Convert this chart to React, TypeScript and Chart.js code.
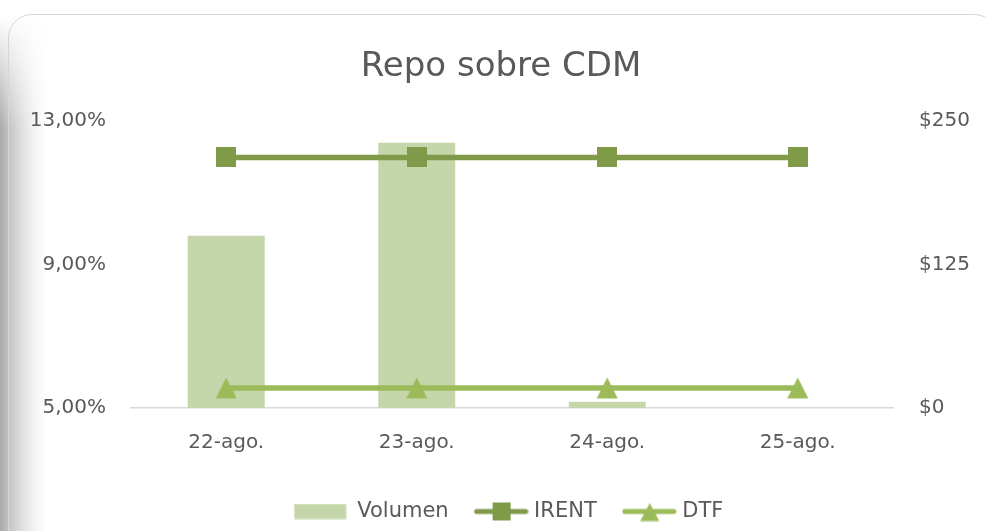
import React, { useEffect, useRef } from 'react';
import { Chart, registerables } from 'chart.js';

Chart.register(...registerables);

const categories = ['22-ago.', '23-ago.', '24-ago.', '25-ago.'];
const volumen = [150, 231, 5.5, 0];
const irent = [11.98, 11.98, 11.98, 11.98];
const dtf = [5.56, 5.56, 5.56, 5.56];
const leftTicks = [5, 9, 13];
const rightTicks = [0, 125, 250];
const seriesNames = ['Volumen', 'IRENT', 'DTF'];
const titleText = 'Repo sobre CDM';

const TEXT = '#595959';
const FONT = "'DejaVu Sans', sans-serif";
const BAR = '#c6d6ab';
const IRENT_C = '#7f9a48';
const DTF_C = '#9bbb59';

function makeCanvas(w: number, h: number, draw: (ctx: CanvasRenderingContext2D) => void) {
  const c = document.createElement('canvas');
  c.width = w;
  c.height = h;
  const ctx = c.getContext('2d')!;
  draw(ctx);
  return c;
}

function drawTri(ctx: CanvasRenderingContext2D, cx: number, cy: number, w: number, h: number, color: string) {
  ctx.fillStyle = color;
  ctx.beginPath();
  ctx.moveTo(cx, cy - h / 2);
  ctx.lineTo(cx + w / 2, cy + h / 2);
  ctx.lineTo(cx - w / 2, cy + h / 2);
  ctx.closePath();
  ctx.fill();
}

const shiftLegend = {
  id: 'shiftLegend',
  afterLayout(chart: any) {
    if (chart.legend) {
      chart.legend.left += 8;
      chart.legend.right += 8;
    }
  },
};

export default function App() {
  const ref = useRef<HTMLCanvasElement | null>(null);

  useEffect(() => {
    if (!ref.current) return;
    const squareImg = makeCanvas(20, 20, (ctx) => {
      ctx.fillStyle = IRENT_C;
      ctx.fillRect(0, 0, 20, 20);
    });
    const triImg = makeCanvas(22, 22, (ctx) => drawTri(ctx, 11, 11, 21, 21, DTF_C));
    const OFF = 7;
    const legVol = makeCanvas(62, 16, (ctx) => {
      ctx.fillStyle = BAR;
      ctx.fillRect(OFF - 2.5, 0.5, 52, 15);
    });
    const legLine = (color: string, marker: (ctx: CanvasRenderingContext2D) => void) =>
      makeCanvas(62, 20, (ctx) => {
        ctx.translate(OFF, 0);
        ctx.strokeStyle = color;
        ctx.lineWidth = 5;
        ctx.lineCap = 'round';
        ctx.beginPath();
        ctx.moveTo(3, 10);
        ctx.lineTo(52, 10);
        ctx.stroke();
        marker(ctx);
      });
    const legIrent = legLine(IRENT_C, (ctx) => {
      ctx.fillStyle = IRENT_C;
      ctx.fillRect(19, 1, 18, 18);
    });
    const legDtf = legLine(DTF_C, (ctx) => drawTri(ctx, 28, 10.5, 19, 18, DTF_C));
    const legImgs = [legVol, legIrent, legDtf];

    const font = { family: FONT, size: 20 };

    const chart = new Chart(ref.current, {
      type: 'bar',
      plugins: [shiftLegend],
      data: {
        labels: categories,
        datasets: [
          {
            type: 'bar',
            label: seriesNames[0],
            data: volumen,
            backgroundColor: BAR,
            yAxisID: 'y1',
            categoryPercentage: 1,
            barPercentage: 0.404,
            order: 3,
          },
          {
            type: 'line',
            label: seriesNames[1],
            data: irent,
            borderColor: IRENT_C,
            backgroundColor: IRENT_C,
            borderWidth: 5.5,
            pointStyle: squareImg as any,
            yAxisID: 'y',
            order: 2,
          },
          {
            type: 'line',
            label: seriesNames[2],
            data: dtf,
            borderColor: DTF_C,
            backgroundColor: DTF_C,
            borderWidth: 5.5,
            pointStyle: triImg as any,
            yAxisID: 'y',
            order: 1,
          },
        ] as any,
      },
      options: {
        responsive: false,
        animation: false,
        layout: { padding: { left: 16, right: 0, top: 0, bottom: -1 } },
        plugins: {
          tooltip: { enabled: false },
          title: {
            display: true,
            text: titleText,
            color: TEXT,
            font: { family: FONT, size: 34, weight: 'normal' },
            padding: { top: 47, bottom: 33 },
          },
          legend: {
            display: true,
            position: 'bottom',
            labels: {
              usePointStyle: true,
              pointStyleWidth: 52,
              color: TEXT,
              font: { family: FONT, size: 21 },
              padding: 23,
              generateLabels: () =>
                seriesNames.map((name, i) => ({
                  text: name,
                  pointStyle: legImgs[i] as any,
                  fillStyle: 'transparent',
                  strokeStyle: 'transparent',
                  lineWidth: 0,
                  hidden: false,
                  datasetIndex: i,
                  fontColor: TEXT,
                })),
            },
          },
        },
        scales: {
          x: {
            grid: { display: false, drawTicks: false },
            border: { display: true, color: '#d9d9d9', width: 1.5 },
            ticks: { color: TEXT, font, padding: 23 },
          },
          y: {
            position: 'left',
            min: leftTicks[0],
            max: leftTicks[leftTicks.length - 1],
            afterBuildTicks: (s: any) => {
              s.ticks = leftTicks.map((v) => ({ value: v }));
            },
            ticks: {
              color: TEXT,
              font,
              padding: 25,
              callback: (v: any) => Number(v).toFixed(2).replace('.', ',') + '%',
            },
            grid: { display: false, drawTicks: false },
            border: { display: false },
            afterFit: (s: any) => {
              s.width = 115;
            },
          },
          y1: {
            position: 'right',
            min: rightTicks[0],
            max: rightTicks[rightTicks.length - 1],
            afterBuildTicks: (s: any) => {
              s.ticks = rightTicks.map((v) => ({ value: v }));
            },
            ticks: {
              color: TEXT,
              font,
              padding: 26,
              callback: (v: any) => '$' + v,
            },
            grid: { display: false, drawTicks: false },
            border: { display: false },
            afterFit: (s: any) => {
              s.width = 93;
            },
          },
        },
      } as any,
    });
    return () => chart.destroy();
  }, []);

  return (
    <div
      style={{
        position: 'fixed',
        left: 0,
        top: 0,
        width: 986,
        height: 531,
        background: '#ffffff',
        overflow: 'hidden',
      }}
    >
      <div
        style={{
          position: 'absolute',
          left: 0,
          top: 0,
          width: 50,
          height: 531,
          background: 'linear-gradient(to right, #a8a8a8 0px, #c6c6c6 10px, #dfdfdf 22px, #f3f3f3 34px, rgba(255,255,255,0) 48px)',
          WebkitMaskImage: 'linear-gradient(to bottom, rgba(0,0,0,0) 15px, rgba(0,0,0,1) 130px)',
          maskImage: 'linear-gradient(to bottom, rgba(0,0,0,0) 15px, rgba(0,0,0,1) 130px)',
        }}
      />
      <div
        style={{
          position: 'absolute',
          left: 8,
          top: 14,
          width: 990,
          height: 600,
          border: '1.5px solid #d6d6d6',
          borderRadius: 24,
          boxSizing: 'border-box',
        }}
      />
      <canvas
        ref={ref}
        width={986}
        height={531}
        style={{ position: 'absolute', left: 0, top: 0, display: 'block' }}
      />
    </div>
  );
}
